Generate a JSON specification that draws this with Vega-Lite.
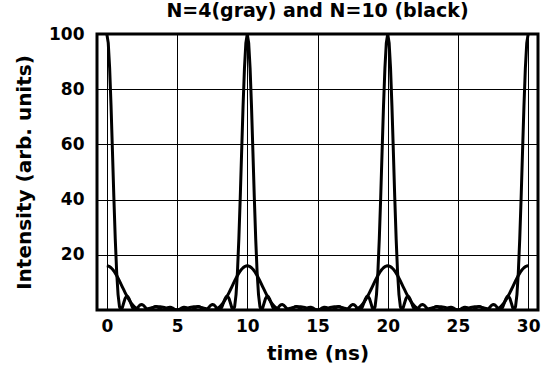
{
"$schema": "https://vega.github.io/schema/vega-lite/v6.json",
"width": 441, "height": 276,
"autosize": {"type": "none"},
"padding": {"left": 97, "top": 34, "right": 5, "bottom": 76},
"background": "white",
"title": {"text": "N=4(gray) and N=10 (black)", "font": "DejaVu Sans", "fontSize": 19, "fontWeight": "bold", "color": "black", "offset": 4, "anchor": "middle"},
"config": {
  "view": {"stroke": "black", "strokeWidth": 3},
  "axis": {"labelFont": "DejaVu Sans", "labelFontSize": 17, "labelFontWeight": "bold", "labelColor": "black", "titleFont": "DejaVu Sans", "titleFontSize": 20, "titleFontWeight": "bold", "titleColor": "black", "gridColor": "black", "gridOpacity": 1, "gridWidth": 1, "ticks": false, "domain": false, "labelFlush": false}
},
"data": {"values": [
{"t":0,"n10":100,"n4":16},{"t":0.1,"n10":96.79,"n4":15.92},{"t":0.2,"n10":87.63,"n4":15.69},{"t":0.3,"n10":73.9,"n4":15.3},{"t":0.4,"n10":57.58,"n4":14.78},{"t":0.5,"n10":40.86,"n4":14.12},{"t":0.6,"n10":25.76,"n4":13.35},{"t":0.7,"n10":13.75,"n4":12.48},{"t":0.8,"n10":5.586,"n4":11.53},{"t":0.9,"n10":1.227,"n4":10.52},
{"t":1,"n10":0,"n4":9.472},{"t":1.1,"n10":0.832,"n4":8.409},{"t":1.2,"n10":2.549,"n4":7.35},{"t":1.3,"n10":4.15,"n4":6.315},{"t":1.4,"n10":4.989,"n4":5.322},{"t":1.5,"n10":4.852,"n4":4.389},{"t":1.6,"n10":3.897,"n4":3.528},{"t":1.7,"n10":2.526,"n4":2.751},{"t":1.8,"n10":1.203,"n4":2.068},{"t":1.9,"n10":0.302,"n4":1.483},
{"t":2,"n10":0,"n4":1},{"t":2.1,"n10":0.254,"n4":0.618},{"t":2.2,"n10":0.85,"n4":0.334},{"t":2.3,"n10":1.497,"n4":0.141},{"t":2.4,"n10":1.93,"n4":0.034},{"t":2.5,"n10":2,"n4":0},{"t":2.6,"n10":1.702,"n4":0.03},{"t":2.7,"n10":1.163,"n4":0.11},{"t":2.8,"n10":0.582,"n4":0.228},{"t":2.9,"n10":0.153,"n4":0.372},
{"t":3,"n10":0,"n4":0.528},{"t":3.1,"n10":0.14,"n4":0.685},{"t":3.2,"n10":0.485,"n4":0.833},{"t":3.3,"n10":0.883,"n4":0.962},{"t":3.4,"n10":1.178,"n4":1.066},{"t":3.5,"n10":1.26,"n4":1.139},{"t":3.6,"n10":1.105,"n4":1.179},{"t":3.7,"n10":0.777,"n4":1.183},{"t":3.8,"n10":0.4,"n4":1.152},{"t":3.9,"n10":0.108,"n4":1.09},
{"t":4,"n10":0,"n4":1},{"t":4.1,"n10":0.104,"n4":0.888},{"t":4.2,"n10":0.368,"n4":0.76},{"t":4.3,"n10":0.687,"n4":0.623},{"t":4.4,"n10":0.937,"n4":0.486},{"t":4.5,"n10":1.025,"n4":0.354},{"t":4.6,"n10":0.919,"n4":0.236},{"t":4.7,"n10":0.66,"n4":0.137},{"t":4.8,"n10":0.347,"n4":0.062},{"t":4.9,"n10":0.096,"n4":0.016},
{"t":5,"n10":0,"n4":0},{"t":5.1,"n10":0.096,"n4":0.016},{"t":5.2,"n10":0.347,"n4":0.062},{"t":5.3,"n10":0.66,"n4":0.137},{"t":5.4,"n10":0.919,"n4":0.236},{"t":5.5,"n10":1.025,"n4":0.354},{"t":5.6,"n10":0.937,"n4":0.486},{"t":5.7,"n10":0.687,"n4":0.623},{"t":5.8,"n10":0.368,"n4":0.76},{"t":5.9,"n10":0.104,"n4":0.888},
{"t":6,"n10":0,"n4":1},{"t":6.1,"n10":0.108,"n4":1.09},{"t":6.2,"n10":0.4,"n4":1.152},{"t":6.3,"n10":0.777,"n4":1.183},{"t":6.4,"n10":1.105,"n4":1.179},{"t":6.5,"n10":1.26,"n4":1.139},{"t":6.6,"n10":1.178,"n4":1.066},{"t":6.7,"n10":0.883,"n4":0.962},{"t":6.8,"n10":0.485,"n4":0.833},{"t":6.9,"n10":0.14,"n4":0.685},
{"t":7,"n10":0,"n4":0.528},{"t":7.1,"n10":0.153,"n4":0.372},{"t":7.2,"n10":0.582,"n4":0.228},{"t":7.3,"n10":1.163,"n4":0.11},{"t":7.4,"n10":1.702,"n4":0.03},{"t":7.5,"n10":2,"n4":0},{"t":7.6,"n10":1.93,"n4":0.034},{"t":7.7,"n10":1.497,"n4":0.141},{"t":7.8,"n10":0.85,"n4":0.334},{"t":7.9,"n10":0.254,"n4":0.618},
{"t":8,"n10":0,"n4":1},{"t":8.1,"n10":0.302,"n4":1.483},{"t":8.2,"n10":1.203,"n4":2.068},{"t":8.3,"n10":2.526,"n4":2.751},{"t":8.4,"n10":3.897,"n4":3.528},{"t":8.5,"n10":4.852,"n4":4.389},{"t":8.6,"n10":4.989,"n4":5.322},{"t":8.7,"n10":4.15,"n4":6.315},{"t":8.8,"n10":2.549,"n4":7.35},{"t":8.9,"n10":0.832,"n4":8.409},
{"t":9,"n10":0,"n4":9.472},{"t":9.1,"n10":1.227,"n4":10.52},{"t":9.2,"n10":5.586,"n4":11.53},{"t":9.3,"n10":13.75,"n4":12.48},{"t":9.4,"n10":25.76,"n4":13.35},{"t":9.5,"n10":40.86,"n4":14.12},{"t":9.6,"n10":57.58,"n4":14.78},{"t":9.7,"n10":73.9,"n4":15.3},{"t":9.8,"n10":87.63,"n4":15.69},{"t":9.9,"n10":96.79,"n4":15.92},
{"t":10,"n10":100,"n4":16},{"t":10.1,"n10":96.79,"n4":15.92},{"t":10.2,"n10":87.63,"n4":15.69},{"t":10.3,"n10":73.9,"n4":15.3},{"t":10.4,"n10":57.58,"n4":14.78},{"t":10.5,"n10":40.86,"n4":14.12},{"t":10.6,"n10":25.76,"n4":13.35},{"t":10.7,"n10":13.75,"n4":12.48},{"t":10.8,"n10":5.586,"n4":11.53},{"t":10.9,"n10":1.227,"n4":10.52},
{"t":11,"n10":0,"n4":9.472},{"t":11.1,"n10":0.832,"n4":8.409},{"t":11.2,"n10":2.549,"n4":7.35},{"t":11.3,"n10":4.15,"n4":6.315},{"t":11.4,"n10":4.989,"n4":5.322},{"t":11.5,"n10":4.852,"n4":4.389},{"t":11.6,"n10":3.897,"n4":3.528},{"t":11.7,"n10":2.526,"n4":2.751},{"t":11.8,"n10":1.203,"n4":2.068},{"t":11.9,"n10":0.302,"n4":1.483},
{"t":12,"n10":0,"n4":1},{"t":12.1,"n10":0.254,"n4":0.618},{"t":12.2,"n10":0.85,"n4":0.334},{"t":12.3,"n10":1.497,"n4":0.141},{"t":12.4,"n10":1.93,"n4":0.034},{"t":12.5,"n10":2,"n4":0},{"t":12.6,"n10":1.702,"n4":0.03},{"t":12.7,"n10":1.163,"n4":0.11},{"t":12.8,"n10":0.582,"n4":0.228},{"t":12.9,"n10":0.153,"n4":0.372},
{"t":13,"n10":0,"n4":0.528},{"t":13.1,"n10":0.14,"n4":0.685},{"t":13.2,"n10":0.485,"n4":0.833},{"t":13.3,"n10":0.883,"n4":0.962},{"t":13.4,"n10":1.178,"n4":1.066},{"t":13.5,"n10":1.26,"n4":1.139},{"t":13.6,"n10":1.105,"n4":1.179},{"t":13.7,"n10":0.777,"n4":1.183},{"t":13.8,"n10":0.4,"n4":1.152},{"t":13.9,"n10":0.108,"n4":1.09},
{"t":14,"n10":0,"n4":1},{"t":14.1,"n10":0.104,"n4":0.888},{"t":14.2,"n10":0.368,"n4":0.76},{"t":14.3,"n10":0.687,"n4":0.623},{"t":14.4,"n10":0.937,"n4":0.486},{"t":14.5,"n10":1.025,"n4":0.354},{"t":14.6,"n10":0.919,"n4":0.236},{"t":14.7,"n10":0.66,"n4":0.137},{"t":14.8,"n10":0.347,"n4":0.062},{"t":14.9,"n10":0.096,"n4":0.016},
{"t":15,"n10":0,"n4":0},{"t":15.1,"n10":0.096,"n4":0.016},{"t":15.2,"n10":0.347,"n4":0.062},{"t":15.3,"n10":0.66,"n4":0.137},{"t":15.4,"n10":0.919,"n4":0.236},{"t":15.5,"n10":1.025,"n4":0.354},{"t":15.6,"n10":0.937,"n4":0.486},{"t":15.7,"n10":0.687,"n4":0.623},{"t":15.8,"n10":0.368,"n4":0.76},{"t":15.9,"n10":0.104,"n4":0.888},
{"t":16,"n10":0,"n4":1},{"t":16.1,"n10":0.108,"n4":1.09},{"t":16.2,"n10":0.4,"n4":1.152},{"t":16.3,"n10":0.777,"n4":1.183},{"t":16.4,"n10":1.105,"n4":1.179},{"t":16.5,"n10":1.26,"n4":1.139},{"t":16.6,"n10":1.178,"n4":1.066},{"t":16.7,"n10":0.883,"n4":0.962},{"t":16.8,"n10":0.485,"n4":0.833},{"t":16.9,"n10":0.14,"n4":0.685},
{"t":17,"n10":0,"n4":0.528},{"t":17.1,"n10":0.153,"n4":0.372},{"t":17.2,"n10":0.582,"n4":0.228},{"t":17.3,"n10":1.163,"n4":0.11},{"t":17.4,"n10":1.702,"n4":0.03},{"t":17.5,"n10":2,"n4":0},{"t":17.6,"n10":1.93,"n4":0.034},{"t":17.7,"n10":1.497,"n4":0.141},{"t":17.8,"n10":0.85,"n4":0.334},{"t":17.9,"n10":0.254,"n4":0.618},
{"t":18,"n10":0,"n4":1},{"t":18.1,"n10":0.302,"n4":1.483},{"t":18.2,"n10":1.203,"n4":2.068},{"t":18.3,"n10":2.526,"n4":2.751},{"t":18.4,"n10":3.897,"n4":3.528},{"t":18.5,"n10":4.852,"n4":4.389},{"t":18.6,"n10":4.989,"n4":5.322},{"t":18.7,"n10":4.15,"n4":6.315},{"t":18.8,"n10":2.549,"n4":7.35},{"t":18.9,"n10":0.832,"n4":8.409},
{"t":19,"n10":0,"n4":9.472},{"t":19.1,"n10":1.227,"n4":10.52},{"t":19.2,"n10":5.586,"n4":11.53},{"t":19.3,"n10":13.75,"n4":12.48},{"t":19.4,"n10":25.76,"n4":13.35},{"t":19.5,"n10":40.86,"n4":14.12},{"t":19.6,"n10":57.58,"n4":14.78},{"t":19.7,"n10":73.9,"n4":15.3},{"t":19.8,"n10":87.63,"n4":15.69},{"t":19.9,"n10":96.79,"n4":15.92},
{"t":20,"n10":100,"n4":16},{"t":20.1,"n10":96.79,"n4":15.92},{"t":20.2,"n10":87.63,"n4":15.69},{"t":20.3,"n10":73.9,"n4":15.3},{"t":20.4,"n10":57.58,"n4":14.78},{"t":20.5,"n10":40.86,"n4":14.12},{"t":20.6,"n10":25.76,"n4":13.35},{"t":20.7,"n10":13.75,"n4":12.48},{"t":20.8,"n10":5.586,"n4":11.53},{"t":20.9,"n10":1.227,"n4":10.52},
{"t":21,"n10":0,"n4":9.472},{"t":21.1,"n10":0.832,"n4":8.409},{"t":21.2,"n10":2.549,"n4":7.35},{"t":21.3,"n10":4.15,"n4":6.315},{"t":21.4,"n10":4.989,"n4":5.322},{"t":21.5,"n10":4.852,"n4":4.389},{"t":21.6,"n10":3.897,"n4":3.528},{"t":21.7,"n10":2.526,"n4":2.751},{"t":21.8,"n10":1.203,"n4":2.068},{"t":21.9,"n10":0.302,"n4":1.483},
{"t":22,"n10":0,"n4":1},{"t":22.1,"n10":0.254,"n4":0.618},{"t":22.2,"n10":0.85,"n4":0.334},{"t":22.3,"n10":1.497,"n4":0.141},{"t":22.4,"n10":1.93,"n4":0.034},{"t":22.5,"n10":2,"n4":0},{"t":22.6,"n10":1.702,"n4":0.03},{"t":22.7,"n10":1.163,"n4":0.11},{"t":22.8,"n10":0.582,"n4":0.228},{"t":22.9,"n10":0.153,"n4":0.372},
{"t":23,"n10":0,"n4":0.528},{"t":23.1,"n10":0.14,"n4":0.685},{"t":23.2,"n10":0.485,"n4":0.833},{"t":23.3,"n10":0.883,"n4":0.962},{"t":23.4,"n10":1.178,"n4":1.066},{"t":23.5,"n10":1.26,"n4":1.139},{"t":23.6,"n10":1.105,"n4":1.179},{"t":23.7,"n10":0.777,"n4":1.183},{"t":23.8,"n10":0.4,"n4":1.152},{"t":23.9,"n10":0.108,"n4":1.09},
{"t":24,"n10":0,"n4":1},{"t":24.1,"n10":0.104,"n4":0.888},{"t":24.2,"n10":0.368,"n4":0.76},{"t":24.3,"n10":0.687,"n4":0.623},{"t":24.4,"n10":0.937,"n4":0.486},{"t":24.5,"n10":1.025,"n4":0.354},{"t":24.6,"n10":0.919,"n4":0.236},{"t":24.7,"n10":0.66,"n4":0.137},{"t":24.8,"n10":0.347,"n4":0.062},{"t":24.9,"n10":0.096,"n4":0.016},
{"t":25,"n10":0,"n4":0},{"t":25.1,"n10":0.096,"n4":0.016},{"t":25.2,"n10":0.347,"n4":0.062},{"t":25.3,"n10":0.66,"n4":0.137},{"t":25.4,"n10":0.919,"n4":0.236},{"t":25.5,"n10":1.025,"n4":0.354},{"t":25.6,"n10":0.937,"n4":0.486},{"t":25.7,"n10":0.687,"n4":0.623},{"t":25.8,"n10":0.368,"n4":0.76},{"t":25.9,"n10":0.104,"n4":0.888},
{"t":26,"n10":0,"n4":1},{"t":26.1,"n10":0.108,"n4":1.09},{"t":26.2,"n10":0.4,"n4":1.152},{"t":26.3,"n10":0.777,"n4":1.183},{"t":26.4,"n10":1.105,"n4":1.179},{"t":26.5,"n10":1.26,"n4":1.139},{"t":26.6,"n10":1.178,"n4":1.066},{"t":26.7,"n10":0.883,"n4":0.962},{"t":26.8,"n10":0.485,"n4":0.833},{"t":26.9,"n10":0.14,"n4":0.685},
{"t":27,"n10":0,"n4":0.528},{"t":27.1,"n10":0.153,"n4":0.372},{"t":27.2,"n10":0.582,"n4":0.228},{"t":27.3,"n10":1.163,"n4":0.11},{"t":27.4,"n10":1.702,"n4":0.03},{"t":27.5,"n10":2,"n4":0},{"t":27.6,"n10":1.93,"n4":0.034},{"t":27.7,"n10":1.497,"n4":0.141},{"t":27.8,"n10":0.85,"n4":0.334},{"t":27.9,"n10":0.254,"n4":0.618},
{"t":28,"n10":0,"n4":1},{"t":28.1,"n10":0.302,"n4":1.483},{"t":28.2,"n10":1.203,"n4":2.068},{"t":28.3,"n10":2.526,"n4":2.751},{"t":28.4,"n10":3.897,"n4":3.528},{"t":28.5,"n10":4.852,"n4":4.389},{"t":28.6,"n10":4.989,"n4":5.322},{"t":28.7,"n10":4.15,"n4":6.315},{"t":28.8,"n10":2.549,"n4":7.35},{"t":28.9,"n10":0.832,"n4":8.409},
{"t":29,"n10":0,"n4":9.472},{"t":29.1,"n10":1.227,"n4":10.52},{"t":29.2,"n10":5.586,"n4":11.53},{"t":29.3,"n10":13.75,"n4":12.48},{"t":29.4,"n10":25.76,"n4":13.35},{"t":29.5,"n10":40.86,"n4":14.12},{"t":29.6,"n10":57.58,"n4":14.78},{"t":29.7,"n10":73.9,"n4":15.3},{"t":29.8,"n10":87.63,"n4":15.69},{"t":29.9,"n10":96.79,"n4":15.92},
{"t":30,"n10":100,"n4":16}
]},
"transform": [{"fold": ["n4", "n10"], "as": ["series", "value"]}],
"mark": {"type": "line", "color": "black", "strokeWidth": 3, "clip": true, "strokeJoin": "round"},
"encoding": {
  "x": {"field": "t", "type": "quantitative", "scale": {"domain": [-0.7, 30.7], "nice": false, "zero": false}, "axis": {"values": [0, 5, 10, 15, 20, 25, 30], "title": "time (ns)", "grid": true, "labelPadding": 8, "titlePadding": 9}},
  "y": {"field": "value", "type": "quantitative", "scale": {"domain": [0, 100], "nice": false}, "axis": {"values": [0, 20, 40, 60, 80, 100], "labelExpr": "datum.value == 0 ? '' : datum.label", "title": "Intensity (arb. units)", "grid": true, "labelPadding": 13, "titlePadding": 14}},
  "detail": {"field": "series", "type": "nominal"}
}
}
